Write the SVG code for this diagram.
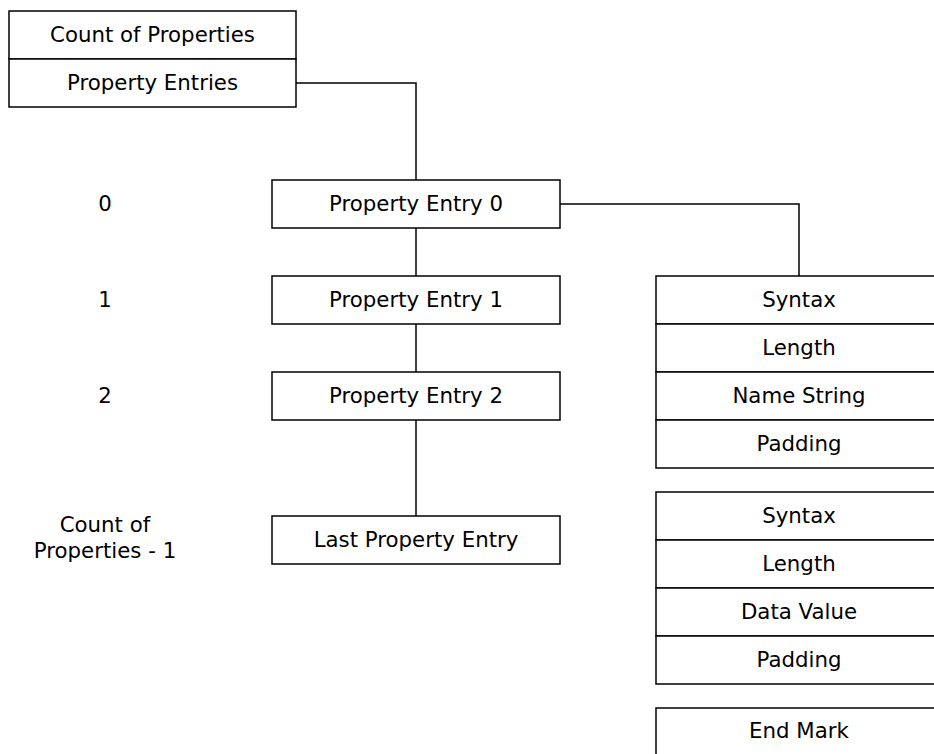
<svg xmlns="http://www.w3.org/2000/svg" width="934" height="754" viewBox="0 0 934 754">
<style>
rect{fill:#fff;stroke:#000;stroke-width:1.5}
.c{fill:none;stroke:#000;stroke-width:1.5}
text{font-family:"DejaVu Sans",Verdana,sans-serif;font-size:21.3px;fill:#000;text-anchor:middle;dominant-baseline:central}
</style>
<rect width="934" height="754" style="stroke:none"/>
<g id="connectors">
<path class="c" d="M296 83H416V180"/>
<path class="c" d="M416 228V276"/>
<path class="c" d="M416 324V372"/>
<path class="c" d="M416 420V516"/>
<path class="c" d="M560 204H799V276"/>
</g>
<g id="header">
<rect x="9" y="11" width="287" height="48"/>
<text x="152.5" y="34">Count of Properties</text>
<rect x="9" y="59" width="287" height="48"/>
<text x="152.5" y="82">Property Entries</text>
</g>
<g id="labels">
<text x="105" y="203">0</text>
<text x="105" y="299">1</text>
<text x="105" y="395">2</text>
<text x="105" y="524">Count of</text>
<text x="105" y="550">Properties - 1</text>
</g>
<g id="entry0"><rect x="272" y="180" width="288" height="48"/><text x="416" y="203">Property Entry 0</text></g>
<g id="entry1"><rect x="272" y="276" width="288" height="48"/><text x="416" y="299">Property Entry 1</text></g>
<g id="entry2"><rect x="272" y="372" width="288" height="48"/><text x="416" y="395">Property Entry 2</text></g>
<g id="entryLast"><rect x="272" y="516" width="288" height="48"/><text x="416" y="539">Last Property Entry</text></g>
<g id="nameBlock">
<rect x="656" y="276" width="290" height="48"/><text x="799" y="299">Syntax</text>
<rect x="656" y="324" width="290" height="48"/><text x="799" y="347">Length</text>
<rect x="656" y="372" width="290" height="48"/><text x="799" y="395">Name String</text>
<rect x="656" y="420" width="290" height="48"/><text x="799" y="443">Padding</text>
</g>
<g id="valueBlock">
<rect x="656" y="492" width="290" height="48"/><text x="799" y="515">Syntax</text>
<rect x="656" y="540" width="290" height="48"/><text x="799" y="563">Length</text>
<rect x="656" y="588" width="290" height="48"/><text x="799" y="611">Data Value</text>
<rect x="656" y="636" width="290" height="48"/><text x="799" y="659">Padding</text>
</g>
<g id="endMark">
<rect x="656" y="708" width="290" height="60"/><text x="799" y="730">End Mark</text>
</g>
</svg>
